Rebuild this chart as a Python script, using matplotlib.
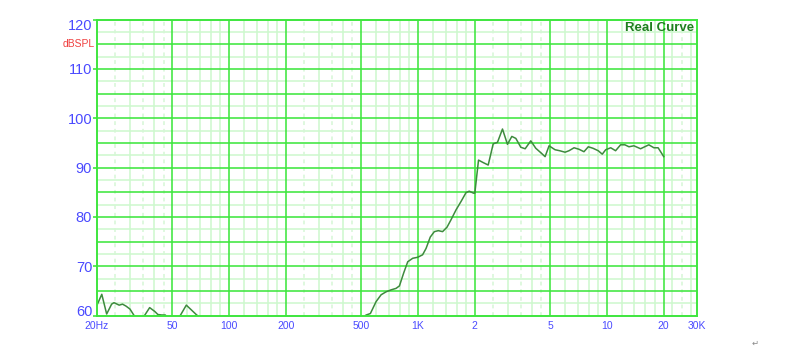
import matplotlib
matplotlib.use("Agg")
import matplotlib.pyplot as plt
import matplotlib.transforms as mtransforms

# ---- data ----
freq_hz = [20, 21.2, 22.5, 23.9, 24.6, 26.2, 27.3, 28.5, 29.9, 31.3, 33.0, 35.7, 38.0,
           40.5, 42.0, 44.0, 46.0, 48.0, 52.0, 54.8, 59.4, 63.7, 67.0, 72.0, 90.0,
           150.0, 300.0, 450.0, 500.0, 532, 560, 600, 638, 678, 721, 766, 798, 840,
           883, 938, 996, 1058, 1104, 1162, 1221, 1282, 1350, 1425, 1496, 1590, 1690,
           1796, 1868, 1968, 2000, 2092, 2214, 2354, 2502, 2636, 2802, 2977, 3140,
           3297, 3503, 3694, 3956, 4204, 4470, 4710, 4944, 5318, 5626, 6006, 6306,
           6702, 7116, 7564, 7976, 8440, 9000, 9454, 9858, 10480, 11120, 11820,
           12460, 13090, 13900, 15080, 16680, 17740, 18680, 20000]
spl_db = [62.1, 64.3, 60.3, 62.3, 62.6, 62.1, 62.3, 61.9, 61.3, 60.1, 59.0, 60.0, 61.6,
          60.8, 60.2, 60.1, 60.1, 59.0, 58.5, 59.8, 62.1, 61.0, 60.2, 59.2, 57.0,
          53.0, 54.0, 58.0, 59.4, 60.1, 60.4, 62.8, 64.2, 64.8, 65.2, 65.5, 66.0, 68.6,
          70.9, 71.6, 71.8, 72.3, 73.6, 75.9, 77.0, 77.2, 77.0, 77.9, 79.4, 81.4, 83.1,
          84.9, 85.2, 84.8, 84.8, 91.5, 91.0, 90.5, 94.8, 95.1, 97.8, 94.7, 96.3,
          95.9, 94.1, 93.8, 95.4, 93.9, 93.0, 92.2, 94.4, 93.6, 93.4, 93.1, 93.4,
          94.0, 93.7, 93.2, 94.2, 93.9, 93.4, 92.7, 93.6, 94.0, 93.4, 94.6,
          94.6, 94.2, 94.4, 93.8, 94.6, 94.0, 94.0, 92.2]

x_ticks = [20, 50, 100, 200, 500, 1000, 2000, 5000, 10000, 20000, 30000]
x_labels = ["20Hz", "50", "100", "200", "500", "1K", "2", "5", "10", "20", "30K"]
y_ticks = [60, 70, 80, 90, 100, 110, 120]
y_labels = ["60", "70", "80", "90", "100", "110", "120"]

x_major_grid = [50, 100, 200, 500, 1000, 2000, 5000, 10000, 20000]
x_minor_solid = [30, 40, 60, 70, 80, 90, 120, 140, 160, 180, 300, 400, 600, 700, 800, 900,
                 1200, 1400, 1600, 1800, 3000, 4000, 6000, 7000, 8000, 9000,
                 12000, 14000, 16000, 18000, 22000, 28000]
x_minor_dashed = [25, 35, 45, 250, 350, 450, 2500, 3500, 4500, 25000]
y_major_grid = [65, 70, 75, 80, 85, 90, 95, 100, 105, 110, 115]
y_minor_grid = [62.5, 67.5, 72.5, 77.5, 82.5, 87.5, 92.5, 97.5, 102.5, 107.5, 112.5, 117.5]

# ---- styles ----
MAJOR = "#3ee63e"
MINOR = "#cdf8cd"
DASHED = "#d6f6d6"
CURVE = "#3d8b3d"
BLUE = "#4a4aff"
FONT = "Liberation Sans"

fig = plt.figure(figsize=(8, 3.59), dpi=100)
ax = fig.add_axes([97 / 800, 1 - 315.5 / 359, 600 / 800, 296 / 359])
ax.set_xscale("log")
ax.set_xlim(20, 30000)
ax.set_ylim(60, 120)

for y in y_minor_grid:
    ax.axhline(y, color=MINOR, lw=1.1, zorder=1)
for x in x_minor_dashed:
    ax.axvline(x, color=DASHED, lw=1.1, ls=(0, (2.5, 2.5)), zorder=1)
for x in x_minor_solid:
    ax.axvline(x, color=MINOR, lw=1.1, zorder=1)
for y in y_major_grid:
    ax.axhline(y, color=MAJOR, lw=1.15, zorder=2)
for x in x_major_grid:
    ax.axvline(x, color=MAJOR, lw=1.15, zorder=2)

ax.plot(freq_hz, spl_db, color=CURVE, lw=1.1, zorder=3)

for s in ax.spines.values():
    s.set_color(MAJOR)
    s.set_linewidth(1.4)
    s.set_zorder(4)

ax.xaxis.set_minor_locator(matplotlib.ticker.NullLocator())
ax.set_xticks(x_ticks)
ax.set_xticklabels(x_labels, fontsize=7.5, color=BLUE, family=FONT)
ax.tick_params(axis="x", length=0, pad=4)

ax.set_yticks(y_ticks)
ax.set_yticklabels(y_labels, fontsize=10.5, color=BLUE, family=FONT)
ax.tick_params(axis="y", length=3, width=1.2, color=MAJOR, pad=0.5)

yt = ax.yaxis.get_major_ticks()
yt[-1].label1.set_verticalalignment("top")
yt[0].label1.set_verticalalignment("baseline")

trans = mtransforms.blended_transform_factory(ax.transAxes, ax.transData)
ax.text(-0.004, 115, "dBSPL", transform=trans, ha="right", va="center",
        fontsize=7.5, color="#f04040", family=FONT)
ax.text(0.996, 0.99, "Real Curve", transform=ax.transAxes, ha="right", va="top",
        fontsize=9.5, fontweight="bold", color="#1f7f1f", family=FONT, zorder=5)

fig.text(755 / 800, 1 - 343 / 359, "\u21b5", fontsize=6, color="#888888",
         ha="center", va="center")

fig.savefig("out.png", dpi=100, facecolor="white")
